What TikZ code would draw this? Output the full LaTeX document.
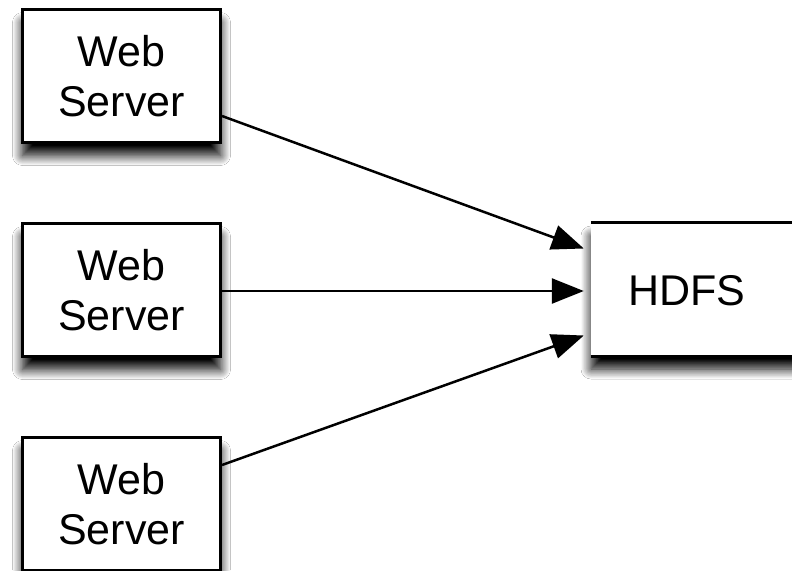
\documentclass[tikz,border=0pt]{standalone}
\usepackage{fontspec}
\setmainfont{Liberation Sans}
\usetikzlibrary{arrows.meta,shadows.blur}
\tikzset{
  boxshadow/.style={blur shadow={shadow xshift=0pt, shadow yshift=-13pt,
      shadow blur radius=10pt, shadow opacity=100, shadow blur steps=16}},
  server/.style={draw=black, line width=3pt, fill=white, boxshadow,
      minimum width=198pt, minimum height=133pt, inner sep=0pt,
      align=center, font=\fontsize{43}{50}\selectfont},
  store/.style={draw=none, fill=white, boxshadow,
      minimum width=214pt, minimum height=133pt, inner sep=0pt},
  storeedge/.style={line width=3pt, black},
  label/.style={inner sep=0pt, font=\fontsize{43}{50}\selectfont},
  flow/.style={line width=2.5pt, -{Triangle[length=32pt,width=25pt]}}
}
\begin{document}
\begin{tikzpicture}[x=1pt,y=-1pt]
  \clip (0,0) rectangle (792,570);
  \fill[white] (0,0) rectangle (792,570);

  % three web servers on the left
  \node[server] (ws1) at (121.5,76)  {Web\\Server};
  \node[server] (ws2) at (121.5,290) {Web\\Server};
  \node[server] (ws3) at (121.5,504) {Web\\Server};

  % HDFS box on the right, running off the edge
  \node[store] (hdfs) at (698,289.5) {};
  \draw[storeedge] (hdfs.north west) -- (hdfs.north east);
  \draw[storeedge] (hdfs.south west) -- (hdfs.south east);
  \node[label] (hdfstext) at (687,291) {HDFS};

  % connectors
  \draw[flow] ([yshift=-40pt]ws1.east) -- ([xshift=-7pt,yshift=41pt]hdfs.west);
  \draw[flow] ([yshift=-1pt]ws2.east) -- ([xshift=-7pt,yshift=-1.5pt]hdfs.west);
  \draw[flow] ([yshift=39pt]ws3.east) -- ([xshift=-7pt,yshift=-46pt]hdfs.west);
\end{tikzpicture}
\end{document}
